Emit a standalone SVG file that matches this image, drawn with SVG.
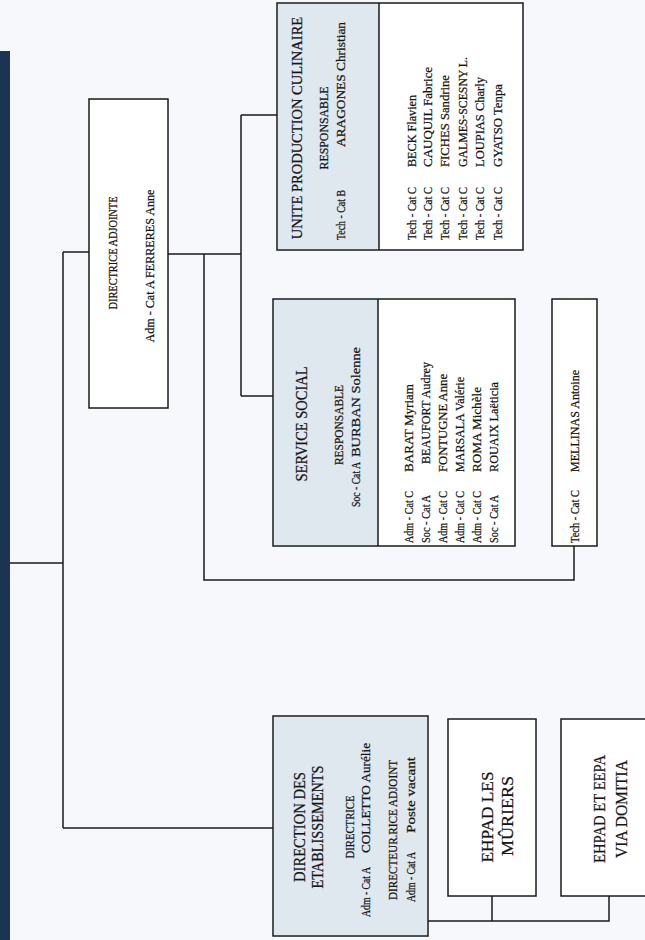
<svg xmlns="http://www.w3.org/2000/svg" width="645" height="940" viewBox="0 0 645 940">
<style>
.t{font-family:"Liberation Serif","Times New Roman",serif;fill:#151515;stroke:#151515;stroke-width:0.25}
.s12{font-size:13px}
.s14{font-size:14.5px}
.s15{font-size:16px}
.s16{font-size:17.5px}
.box{fill:#ffffff;stroke:#1a1a1a;stroke-width:1.5}
.blue{fill:#dfe7ef;stroke:none}
.ln{stroke:#1a1a1a;stroke-width:1.5;fill:none}
.m{text-anchor:middle}
</style>
<rect x="0" y="0" width="645" height="940" fill="#f6f8fb"/>
<rect x="0" y="51" width="10" height="889" fill="#1c3452"/>

<g id="connectors">
<path class="ln" d="M10 563 H63 M63 252 V828 M63 252 H89 M63 828 H273"/>
<path class="ln" d="M168 254 H241 M241 115 V396 M241 115 H277 M241 396 H273"/>
<path class="ln" d="M204 254 V580 H574 V546"/>
<path class="ln" d="M428 921 H609 V896 M492 896 V921"/>
</g>

<g id="directrice-adjointe">
<rect class="box" x="89" y="99" width="79" height="309"/>
<text class="t s12 m" transform="translate(117,253) rotate(-90)" textLength="113" lengthAdjust="spacingAndGlyphs">DIRECTRICE ADJOINTE</text>
<text class="t s12 m" transform="translate(154,266) rotate(-90)" textLength="153" lengthAdjust="spacingAndGlyphs">Adm - Cat A FERRERES Anne</text>
</g>

<g id="unite-production-culinaire">
<rect class="box" x="277" y="3" width="246" height="247"/>
<rect class="blue" x="278" y="4" width="101" height="245"/>
<line class="ln" x1="379" y1="3" x2="379" y2="250"/>
<text class="t s14 m" transform="translate(302,128) rotate(-90)">UNITE PRODUCTION CULINAIRE</text>
<text class="t s12 m" transform="translate(328,128) rotate(-90)" textLength="83" lengthAdjust="spacingAndGlyphs">RESPONSABLE</text>
<text class="t s12" transform="translate(345,240) rotate(-90)" textLength="50" lengthAdjust="spacingAndGlyphs">Tech - Cat B</text>
<text class="t s12" transform="translate(345,147) rotate(-90)" textLength="125" lengthAdjust="spacingAndGlyphs">ARAGONES Christian</text>
<g class="t s12">
<text transform="translate(416,240) rotate(-90)" textLength="53" lengthAdjust="spacingAndGlyphs">Tech - Cat C</text>
<text transform="translate(416,167) rotate(-90)" textLength="72" lengthAdjust="spacingAndGlyphs">BECK Flavien</text>
<text transform="translate(432,240) rotate(-90)" textLength="53" lengthAdjust="spacingAndGlyphs">Tech - Cat C</text>
<text transform="translate(432,167) rotate(-90)" textLength="100" lengthAdjust="spacingAndGlyphs">CAUQUIL Fabrice</text>
<text transform="translate(449,240) rotate(-90)" textLength="53" lengthAdjust="spacingAndGlyphs">Tech - Cat C</text>
<text transform="translate(449,167) rotate(-90)" textLength="92" lengthAdjust="spacingAndGlyphs">FICHES Sandrine</text>
<text transform="translate(467,240) rotate(-90)" textLength="53" lengthAdjust="spacingAndGlyphs">Tech - Cat C</text>
<text transform="translate(467,167) rotate(-90)" textLength="110" lengthAdjust="spacingAndGlyphs">GALMES-SCESNY L.</text>
<text transform="translate(484,240) rotate(-90)" textLength="53" lengthAdjust="spacingAndGlyphs">Tech - Cat C</text>
<text transform="translate(484,167) rotate(-90)" textLength="90" lengthAdjust="spacingAndGlyphs">LOUPIAS Charly</text>
<text transform="translate(502,240) rotate(-90)" textLength="53" lengthAdjust="spacingAndGlyphs">Tech - Cat C</text>
<text transform="translate(502,167) rotate(-90)" textLength="83" lengthAdjust="spacingAndGlyphs">GYATSO Tenpa</text>
</g>
</g>

<g id="service-social">
<rect class="box" x="273" y="299" width="242" height="247"/>
<rect class="blue" x="274" y="300" width="104" height="245"/>
<line class="ln" x1="378" y1="299" x2="378" y2="546"/>
<text class="t s15 m" transform="translate(307,424) rotate(-90)" textLength="115" lengthAdjust="spacingAndGlyphs">SERVICE SOCIAL</text>
<text class="t s12 m" transform="translate(343,425) rotate(-90)" textLength="80" lengthAdjust="spacingAndGlyphs">RESPONSABLE</text>
<text class="t s12" transform="translate(360,507) rotate(-90)" textLength="45" lengthAdjust="spacingAndGlyphs">Soc - Cat A</text>
<text class="t s12" transform="translate(360,457) rotate(-90)" textLength="110" lengthAdjust="spacingAndGlyphs">BURBAN Solenne</text>
<g class="t s12">
<text transform="translate(413,543) rotate(-90)" textLength="52" lengthAdjust="spacingAndGlyphs">Adm - Cat C</text>
<text transform="translate(413,472) rotate(-90)" textLength="88" lengthAdjust="spacingAndGlyphs">BARAT Myriam</text>
<text transform="translate(430,543) rotate(-90)" textLength="48" lengthAdjust="spacingAndGlyphs">Soc - Cat A</text>
<text transform="translate(430,464) rotate(-90)" textLength="102" lengthAdjust="spacingAndGlyphs">BEAUFORT Audrey</text>
<text transform="translate(447,543) rotate(-90)" textLength="52" lengthAdjust="spacingAndGlyphs">Adm - Cat C</text>
<text transform="translate(447,472) rotate(-90)" textLength="98" lengthAdjust="spacingAndGlyphs">FONTUGNE Anne</text>
<text transform="translate(464,543) rotate(-90)" textLength="52" lengthAdjust="spacingAndGlyphs">Adm - Cat C</text>
<text transform="translate(464,472) rotate(-90)" textLength="95" lengthAdjust="spacingAndGlyphs">MARSALA Valérie</text>
<text transform="translate(481,543) rotate(-90)" textLength="52" lengthAdjust="spacingAndGlyphs">Adm - Cat C</text>
<text transform="translate(481,472) rotate(-90)" textLength="85" lengthAdjust="spacingAndGlyphs">ROMA Michèle</text>
<text transform="translate(498,543) rotate(-90)" textLength="48" lengthAdjust="spacingAndGlyphs">Soc - Cat A</text>
<text transform="translate(498,472) rotate(-90)" textLength="90" lengthAdjust="spacingAndGlyphs">ROUAIX Laëticia</text>
</g>
</g>

<g id="mellinas">
<rect class="box" x="552" y="299" width="45" height="247"/>
<text class="t s12" transform="translate(579,543) rotate(-90)" textLength="53" lengthAdjust="spacingAndGlyphs">Tech - Cat C</text>
<text class="t s12" transform="translate(579,472) rotate(-90)" textLength="102" lengthAdjust="spacingAndGlyphs">MELLINAS Antoine</text>
</g>

<g id="direction-etablissements">
<rect class="box" x="273" y="716" width="155" height="220"/>
<rect class="blue" x="274" y="717" width="153" height="218"/>
<text class="t s15 m" transform="translate(305,827) rotate(-90)" textLength="110" lengthAdjust="spacingAndGlyphs">DIRECTION DES</text>
<text class="t s15 m" transform="translate(323,827) rotate(-90)" textLength="123" lengthAdjust="spacingAndGlyphs">ETABLISSEMENTS</text>
<text class="t s12 m" transform="translate(354,827) rotate(-90)" textLength="63" lengthAdjust="spacingAndGlyphs">DIRECTRICE</text>
<text class="t s12" transform="translate(370,917) rotate(-90)" textLength="50" lengthAdjust="spacingAndGlyphs">Adm - Cat A</text>
<text class="t s12" transform="translate(370,853) rotate(-90)" textLength="110" lengthAdjust="spacingAndGlyphs">COLLETTO Aurélie</text>
<text class="t s12 m" transform="translate(397,830) rotate(-90)" textLength="140" lengthAdjust="spacingAndGlyphs">DIRECTEUR.RICE ADJOINT</text>
<text class="t s12" transform="translate(415,902) rotate(-90)" textLength="50" lengthAdjust="spacingAndGlyphs">Adm - Cat A</text>
<text class="t s12" transform="translate(415,833) rotate(-90)" textLength="76" lengthAdjust="spacingAndGlyphs">Poste vacant</text>
</g>

<g id="ehpad-les-muriers">
<rect class="box" x="448" y="719" width="88" height="177"/>
<text class="t s16 m" transform="translate(493,817) rotate(-90)" textLength="91" lengthAdjust="spacingAndGlyphs">EHPAD LES</text>
<text class="t s16 m" transform="translate(513,816) rotate(-90)" textLength="80" lengthAdjust="spacingAndGlyphs">MÛRIERS</text>
</g>

<g id="ehpad-via-domitia">
<rect class="box" x="561" y="719" width="90" height="177"/>
<text class="t s16 m" transform="translate(605,809) rotate(-90)" textLength="108" lengthAdjust="spacingAndGlyphs">EHPAD ET EEPA</text>
<text class="t s16 m" transform="translate(627,809) rotate(-90)" textLength="98" lengthAdjust="spacingAndGlyphs">VIA DOMITIA</text>
</g>
</svg>
